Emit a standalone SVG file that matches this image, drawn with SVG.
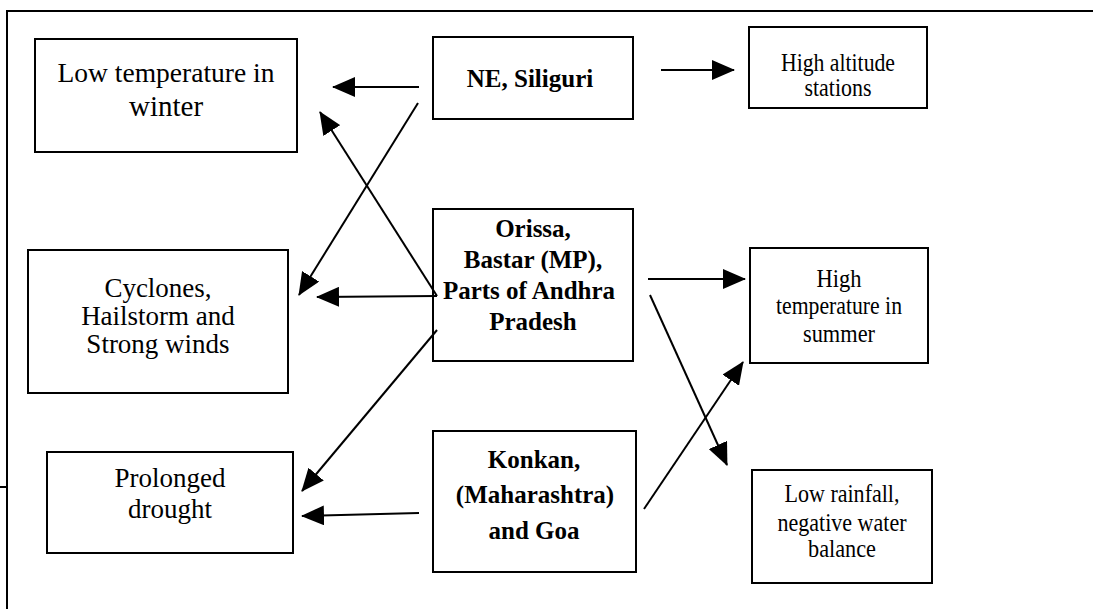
<svg xmlns="http://www.w3.org/2000/svg" width="1093" height="609" viewBox="0 0 1093 609">
<style>
.box{fill:#fff;stroke:#000;stroke-width:2}
.t{font-family:"Liberation Serif","Times New Roman",serif;fill:#000;text-anchor:middle}
.b{font-weight:bold}
.n{font-size:24.5px}
.c{stroke:#000;stroke-width:2;fill:none;marker-end:url(#ah)}
.frame{stroke:#000;stroke-width:2;fill:none}
</style>
<defs>
<marker id="ah" markerUnits="userSpaceOnUse" markerWidth="23" markerHeight="20" viewBox="0 0 23 20" refX="22" refY="10" orient="auto">
<path d="M0,0 L23,10 L0,20 Z" fill="#000"/>
</marker>
</defs>
<g id="frame">
<path class="frame" d="M7,609 L7,11 L1093,11"/>
<path class="frame" d="M0,487 L7,487" stroke-width="1.5"/>
</g>
<g id="low-temp-winter">
<rect class="box" x="35" y="39" width="262" height="113"/>
<text class="t" x="166" y="82" font-size="27.5">Low temperature in</text>
<text class="t" x="166" y="116" font-size="29">winter</text>
</g>
<g id="ne-siliguri">
<rect class="box" x="433" y="37" width="200" height="82"/>
<text class="t b" x="530" y="87" font-size="25">NE, Siliguri</text>
</g>
<g id="high-altitude">
<rect class="box" x="749" y="27" width="178" height="81"/>
<text class="t n" x="838" y="71" textLength="114" lengthAdjust="spacingAndGlyphs">High altitude</text>
<text class="t n" x="838" y="96" textLength="67" lengthAdjust="spacingAndGlyphs">stations</text>
</g>
<g id="cyclones">
<rect class="box" x="28" y="250" width="260" height="143"/>
<text class="t" x="158" y="297" font-size="27">Cyclones,</text>
<text class="t" x="158" y="325" font-size="27">Hailstorm and</text>
<text class="t" x="158" y="353" font-size="27">Strong winds</text>
</g>
<g id="orissa">
<rect class="box" x="433" y="209" width="200" height="152"/>
<text class="t b" x="533" y="237" font-size="25">Orissa,</text>
<text class="t b" x="533" y="268" font-size="25">Bastar (MP),</text>
<text class="t b" x="529" y="299" font-size="25">Parts of Andhra</text>
<text class="t b" x="533" y="330" font-size="25">Pradesh</text>
</g>
<g id="high-temp-summer">
<rect class="box" x="750" y="248" width="178" height="115"/>
<text class="t n" x="839" y="287" textLength="45" lengthAdjust="spacingAndGlyphs">High</text>
<text class="t n" x="839" y="314" textLength="126" lengthAdjust="spacingAndGlyphs">temperature in</text>
<text class="t n" x="839" y="342" textLength="72" lengthAdjust="spacingAndGlyphs">summer</text>
</g>
<g id="prolonged-drought">
<rect class="box" x="47" y="452" width="246" height="101"/>
<text class="t" x="170" y="487" font-size="27">Prolonged</text>
<text class="t" x="170" y="518" font-size="27">drought</text>
</g>
<g id="konkan">
<rect class="box" x="433" y="431" width="203" height="141"/>
<text class="t b" x="534" y="468" font-size="25">Konkan,</text>
<text class="t b" x="535" y="503" font-size="25">(Maharashtra)</text>
<text class="t b" x="534" y="539" font-size="25">and Goa</text>
</g>
<g id="low-rainfall">
<rect class="box" x="752" y="470" width="180" height="113"/>
<text class="t n" x="842" y="502" textLength="115" lengthAdjust="spacingAndGlyphs">Low rainfall,</text>
<text class="t n" x="842" y="531" textLength="129" lengthAdjust="spacingAndGlyphs">negative water</text>
<text class="t n" x="842" y="557" textLength="68" lengthAdjust="spacingAndGlyphs">balance</text>
</g>
<g id="connectors">
<line class="c" x1="419" y1="87" x2="333" y2="87"/>
<line class="c" x1="661" y1="70" x2="734" y2="70"/>
<line class="c" x1="418" y1="103" x2="299" y2="295"/>
<line class="c" x1="437" y1="296" x2="320" y2="112"/>
<line class="c" x1="437" y1="296" x2="317" y2="297"/>
<line class="c" x1="437" y1="330" x2="302" y2="491"/>
<line class="c" x1="648" y1="279" x2="745" y2="279"/>
<line class="c" x1="650" y1="295" x2="727" y2="465"/>
<line class="c" x1="644" y1="509" x2="743" y2="362"/>
<line class="c" x1="419" y1="513" x2="302" y2="516"/>
</g>
</svg>
